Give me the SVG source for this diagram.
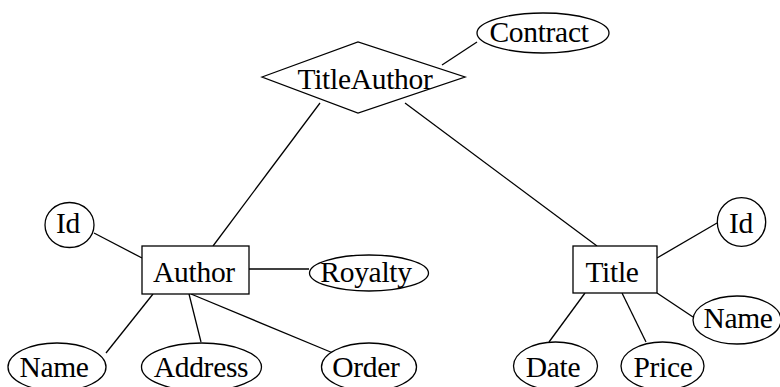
<svg xmlns="http://www.w3.org/2000/svg" width="780" height="387" viewBox="0 0 780 387">
<style>
  .shape { fill: #ffffff; stroke: #000000; stroke-width: 1.3; }
  .edge { stroke: #000000; stroke-width: 1.3; fill: none; }
  text { font-family: "Liberation Serif", "Times New Roman", serif; font-size: 29.5px; letter-spacing: -0.3px; fill: #000000; text-anchor: middle; }
</style>
<rect width="780" height="387" fill="#ffffff"/>
<g id="connectors">
  <line class="edge" x1="442" y1="65" x2="477" y2="42"/>
  <line class="edge" x1="320" y1="103" x2="213" y2="246"/>
  <line class="edge" x1="405" y1="103" x2="597" y2="246"/>
  <line class="edge" x1="94" y1="233" x2="142" y2="258"/>
  <line class="edge" x1="249" y1="269" x2="309" y2="269"/>
  <line class="edge" x1="153" y1="294" x2="106" y2="353"/>
  <line class="edge" x1="189" y1="294" x2="201" y2="342"/>
  <line class="edge" x1="191" y1="294" x2="333" y2="353"/>
  <line class="edge" x1="657" y1="258" x2="717" y2="223"/>
  <line class="edge" x1="657" y1="293" x2="693" y2="317"/>
  <line class="edge" x1="585" y1="293" x2="549" y2="342"/>
  <line class="edge" x1="622" y1="293" x2="646" y2="342"/>
</g>
<g id="titleauthor">
  <polygon class="shape" points="262,77 358,42 465,77 358,113"/>
  <text x="365" y="89">TitleAuthor</text>
</g>
<g id="contract">
  <ellipse class="shape" cx="543" cy="33" rx="66" ry="20"/>
  <text x="539" y="42">Contract</text>
</g>
<g id="author">
  <rect class="shape" x="142" y="246" width="107" height="48"/>
  <text x="194" y="282">Author</text>
</g>
<g id="author-id">
  <ellipse class="shape" cx="69.5" cy="225" rx="24.5" ry="22.5"/>
  <text x="68" y="233">Id</text>
</g>
<g id="royalty">
  <ellipse class="shape" cx="369" cy="273" rx="59.5" ry="18"/>
  <text x="366" y="282">Royalty</text>
</g>
<g id="author-name">
  <ellipse class="shape" cx="57" cy="367" rx="49" ry="24"/>
  <text x="54" y="377">Name</text>
</g>
<g id="address">
  <ellipse class="shape" cx="201.5" cy="367" rx="60" ry="24"/>
  <text x="201" y="377">Address</text>
</g>
<g id="order">
  <ellipse class="shape" cx="369" cy="367" rx="47.5" ry="24"/>
  <text x="366" y="377">Order</text>
</g>
<g id="title">
  <rect class="shape" x="573" y="246" width="84" height="47"/>
  <text x="612" y="282">Title</text>
</g>
<g id="title-id">
  <ellipse class="shape" cx="741.5" cy="222" rx="24.2" ry="24.3"/>
  <text x="741" y="233">Id</text>
</g>
<g id="title-name">
  <ellipse class="shape" cx="737" cy="320" rx="44" ry="24"/>
  <text x="738" y="328">Name</text>
</g>
<g id="date">
  <ellipse class="shape" cx="555.5" cy="366" rx="42" ry="24"/>
  <text x="553" y="377">Date</text>
</g>
<g id="price">
  <ellipse class="shape" cx="662.5" cy="366" rx="41.5" ry="24"/>
  <text x="663" y="377">Price</text>
</g>
</svg>
